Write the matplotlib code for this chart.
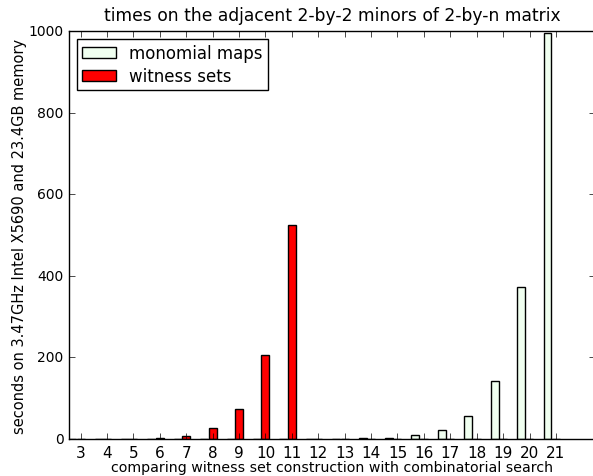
import numpy as np
import matplotlib
matplotlib.use('Agg')
import matplotlib.pyplot as plt

plt.style.use('classic')

n = list(range(3, 22))
monomial_maps = [0.1, 0.1, 0.1, 0.2, 0.2, 0.3, 0.4, 0.5, 0.6, 0.8, 1.0, 1.5,
                 3, 9, 22, 57, 142, 373, 995]
witness_sets = [0.2, 0.5, 1.0, 2.0, 8, 28, 73, 206, 525,
                0, 0, 0, 0, 0, 0, 0, 0, 0, 0]

fig = plt.figure(figsize=(5.93, 4.77), dpi=100)
ax = fig.add_axes([69/593, 37/477, (595-69)/593, (440-32)/477])

ind = np.array(n)
w = 0.3
ax.bar(ind - 0.32, monomial_maps, w, align='center', color='#f0fff0',
       edgecolor='black', label='monomial maps')
ax.bar(ind, witness_sets, w, align='center', color='red',
       edgecolor='black', label='witness sets')

ax.set_xlim(2.56, 22.48)
ax.set_ylim(0, 1000)
ax.set_xticks(ind)
ax.set_xticklabels([str(i) for i in n])
ax.tick_params(axis='x', labelsize=11, pad=4)
ax.tick_params(axis='y', labelsize=10)
ax.set_title('times on the adjacent 2-by-2 minors of 2-by-n matrix',
             fontsize=12.3, pad=8)
ax.set_xlabel('comparing witness set construction with combinatorial search',
              fontsize=10.2, labelpad=0)
ax.set_ylabel('seconds on 3.47GHz Intel X5690 and 23.4GB memory', fontsize=10.5,
              labelpad=1)
ax.legend(loc='upper left', fontsize=12, labelspacing=0.3, borderpad=0.3)

fig.savefig('out.png', dpi=100)
